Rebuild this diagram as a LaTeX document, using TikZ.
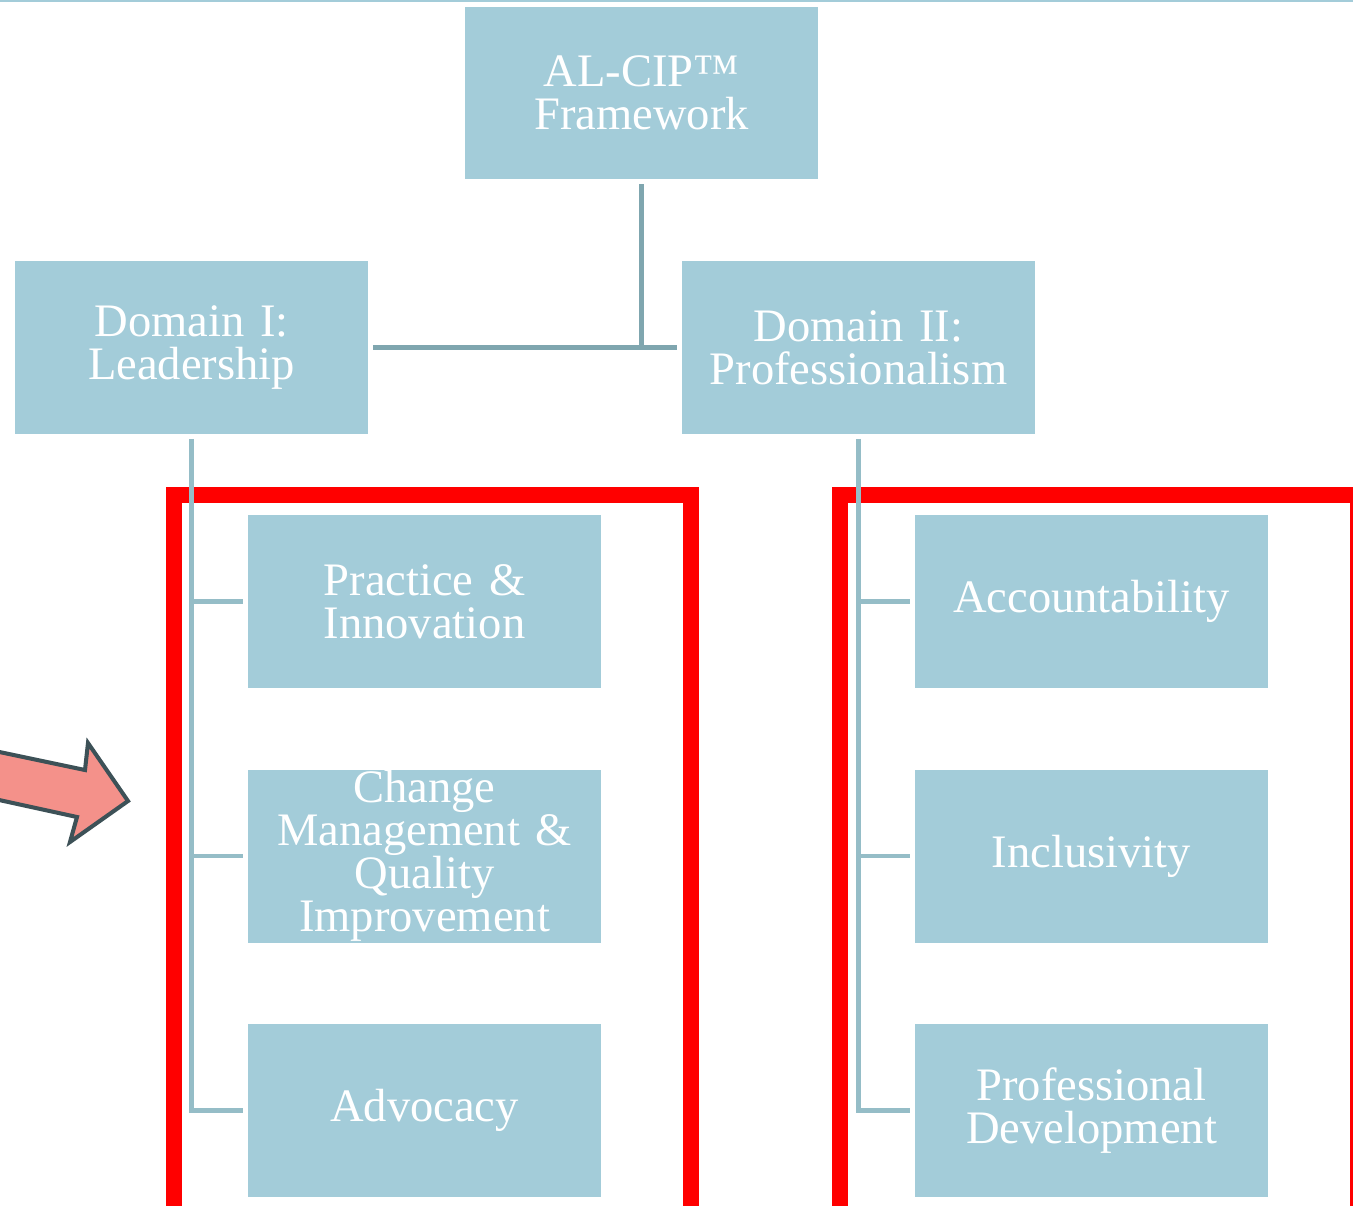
\documentclass[tikz,border=0pt]{standalone}
\usepackage{fontspec}
\setmainfont{Liberation Serif}
\usepackage{tikz}
\usetikzlibrary{positioning}
\definecolor{boxblue}{HTML}{A3CCD9}
\definecolor{linkblue}{HTML}{95BDC7}
\definecolor{linkdark}{HTML}{7FA6AF}
\definecolor{framered}{HTML}{FF0000}
\definecolor{arrowfill}{HTML}{F4918A}
\definecolor{arrowedge}{HTML}{3D5157}
\tikzset{
    orgbox/.style={fill=boxblue, draw=none, minimum width=7.06cm, minimum height=3.46cm,
    text width=6.9cm, align=center, text=white, inner sep=0pt, outer sep=0.1cm,
    font=\fontsize{26.5}{24.5}\selectfont},
    link/.style={draw=linkblue, line width=2.3pt},
    toplink/.style={link, draw=linkdark},
    redframe/.style={draw=framered, line width=9.1pt},
}

\begin{document}
\begin{tikzpicture}[x=0.02cm, y=-0.02cm]
    \useasboundingbox (0,0) rectangle (1353,1205);
    \clip (0,0) rectangle (1353,1205);
    % thin rule at the top
    \draw[boxblue, line width=1.1pt] (0,1) -- (1353,1);
    % red frames
    \draw[redframe] (174,1230) -- (174,495) -- (691,495) -- (691,1230);
    \draw[redframe] (840,1230) -- (840,495) -- (1358,495) -- (1358,1230);
    % boxes
    \node[orgbox] (alcip) at (641.5,93) {AL-CIP™\\Framework};
    \node[orgbox] (dom1) at (191.5,347.5) {Domain I:\\Leadership};
    \node[orgbox] (dom2) at (858.5,347.5) {Domain II:\\Professionalism};
    \node[orgbox] (prac) at (424.5,601.5) {Practice \&\\Innovation};
    \node[orgbox] (change) at (424.5,856) {Change\\Management \&\\Quality\\Improvement};
    \node[orgbox] (advo) at (424.5,1110.5) {Advocacy};
    \node[orgbox] (acct) at (1091.5,601.5) {Accountability};
    \node[orgbox] (incl) at (1091.5,856) {Inclusivity};
    \node[orgbox] (profdev) at (1091.5,1110.5) {Professional\\Development};
    % connectors
    \draw[toplink] (alcip.south) -- (alcip.south |- dom1.east);
    \draw[toplink] (dom1.east) -- (dom2.west);
    \draw[link] (dom1.south) |- (advo.west);
    \draw[link] (dom1.south |- prac.west) -- (prac.west);
    \draw[link] (dom1.south |- change.west) -- (change.west);
    \draw[link] (dom2.south) |- (profdev.west);
    \draw[link] (dom2.south |- acct.west) -- (acct.west);
    \draw[link] (dom2.south |- incl.west) -- (incl.west);
    % pointer arrow
    \draw[fill=arrowfill, draw=arrowedge, line width=2.3pt, line join=miter]
        (-10,750) -- (85,770) -- (88,743) -- (128,801) -- (70,842) -- (77,817) -- (-10,798) -- cycle;
\end{tikzpicture}
\end{document}
